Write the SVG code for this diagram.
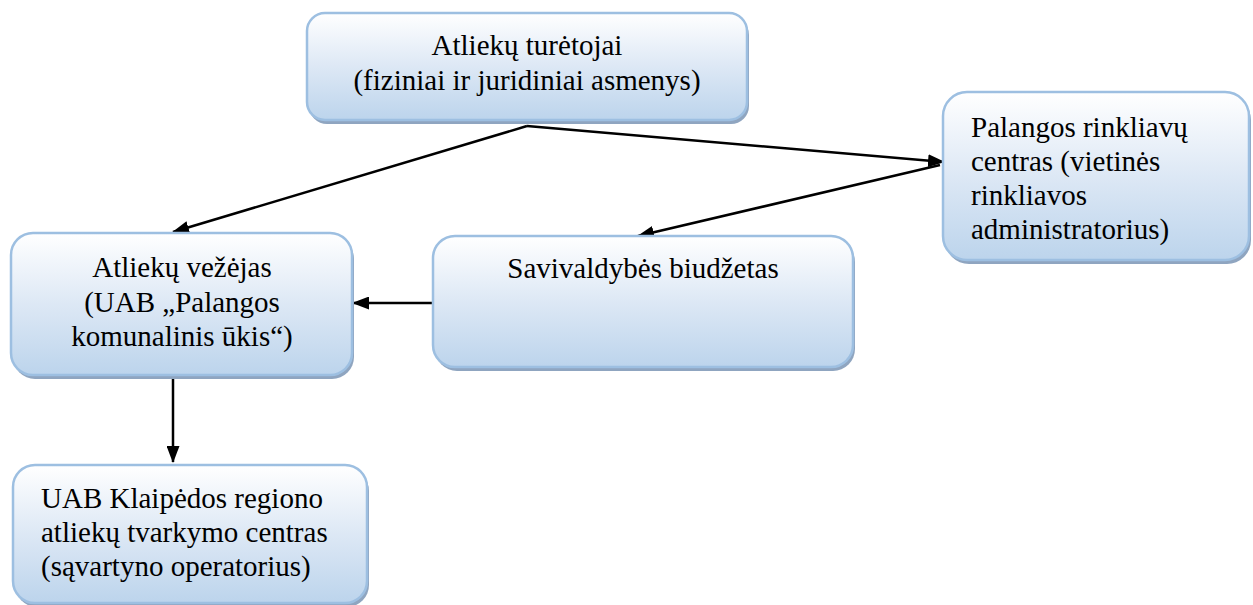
<svg xmlns="http://www.w3.org/2000/svg" width="1253" height="605" viewBox="0 0 1253 605">
<defs>
<linearGradient id="g" x1="0" y1="0" x2="0" y2="1">
<stop offset="0" stop-color="#FFFFFF"/>
<stop offset="0.5" stop-color="#DDE8F5"/>
<stop offset="1" stop-color="#BCD4EC"/>
</linearGradient>
<marker id="ah" markerUnits="userSpaceOnUse" markerWidth="17" markerHeight="13" viewBox="0 0 17 13" refX="16" refY="6.5" orient="auto">
<path d="M0,0 L17,6.5 L0,13 z" fill="#000"/>
</marker>
<style>
.sh{fill:#8FA5C0;}
.bx{fill:url(#g);stroke:#9DBFE1;stroke-width:2.5;}
.t{font-family:'Liberation Serif','Times New Roman','DejaVu Serif',serif;font-size:29px;fill:#000;}
.c{text-anchor:middle;}
.ln{stroke:#000;stroke-width:2.5;fill:none;marker-end:url(#ah);}
</style>
</defs>
<g id="connectors">
<line class="ln" x1="527" y1="126" x2="173" y2="232"/>
<line class="ln" x1="527" y1="126" x2="944" y2="162"/>
<line class="ln" x1="940" y1="165" x2="638" y2="236"/>
<line class="ln" x1="435" y1="303" x2="353" y2="303"/>
<line class="ln" x1="173" y1="377" x2="173" y2="462"/>
</g>
<g id="n-turetojai" font-family="Liberation Serif, serif">
<rect class="sh" x="309" y="17" width="440" height="107" rx="18"/>
<rect class="bx" x="307" y="13" width="440" height="107" rx="18"/>
<text class="t c" x="527" y="55">Atliekų turėtojai</text>
<text class="t c" x="527" y="90">(fiziniai ir juridiniai asmenys)</text>
</g>
<g id="n-rinkliavu">
<rect class="sh" x="945" y="96" width="306" height="168" rx="24"/>
<rect class="bx" x="943" y="92" width="306" height="168" rx="24"/>
<text class="t" x="971" y="137">Palangos rinkliavų</text>
<text class="t" x="971" y="171">centras (vietinės</text>
<text class="t" x="971" y="205">rinkliavos</text>
<text class="t" x="971" y="239">administratorius)</text>
</g>
<g id="n-vezejas">
<rect class="sh" x="13" y="237" width="341" height="142" rx="22"/>
<rect class="bx" x="11" y="233" width="341" height="142" rx="22"/>
<text class="t c" x="182" y="277">Atliekų vežėjas</text>
<text class="t c" x="182" y="312">(UAB „Palangos</text>
<text class="t c" x="182" y="346">komunalinis ūkis“)</text>
</g>
<g id="n-biudzetas">
<rect class="sh" x="435" y="240" width="420" height="131" rx="22"/>
<rect class="bx" x="433" y="236" width="420" height="131" rx="22"/>
<text class="t c" x="643" y="278">Savivaldybės biudžetas</text>
</g>
<g id="n-klaipeda">
<rect class="sh" x="15" y="469" width="354" height="138" rx="22"/>
<rect class="bx" x="13" y="465" width="354" height="138" rx="22"/>
<text class="t" x="41" y="508">UAB Klaipėdos regiono</text>
<text class="t" x="41" y="542">atliekų tvarkymo centras</text>
<text class="t" x="41" y="576">(sąvartyno operatorius)</text>
</g>
</svg>
